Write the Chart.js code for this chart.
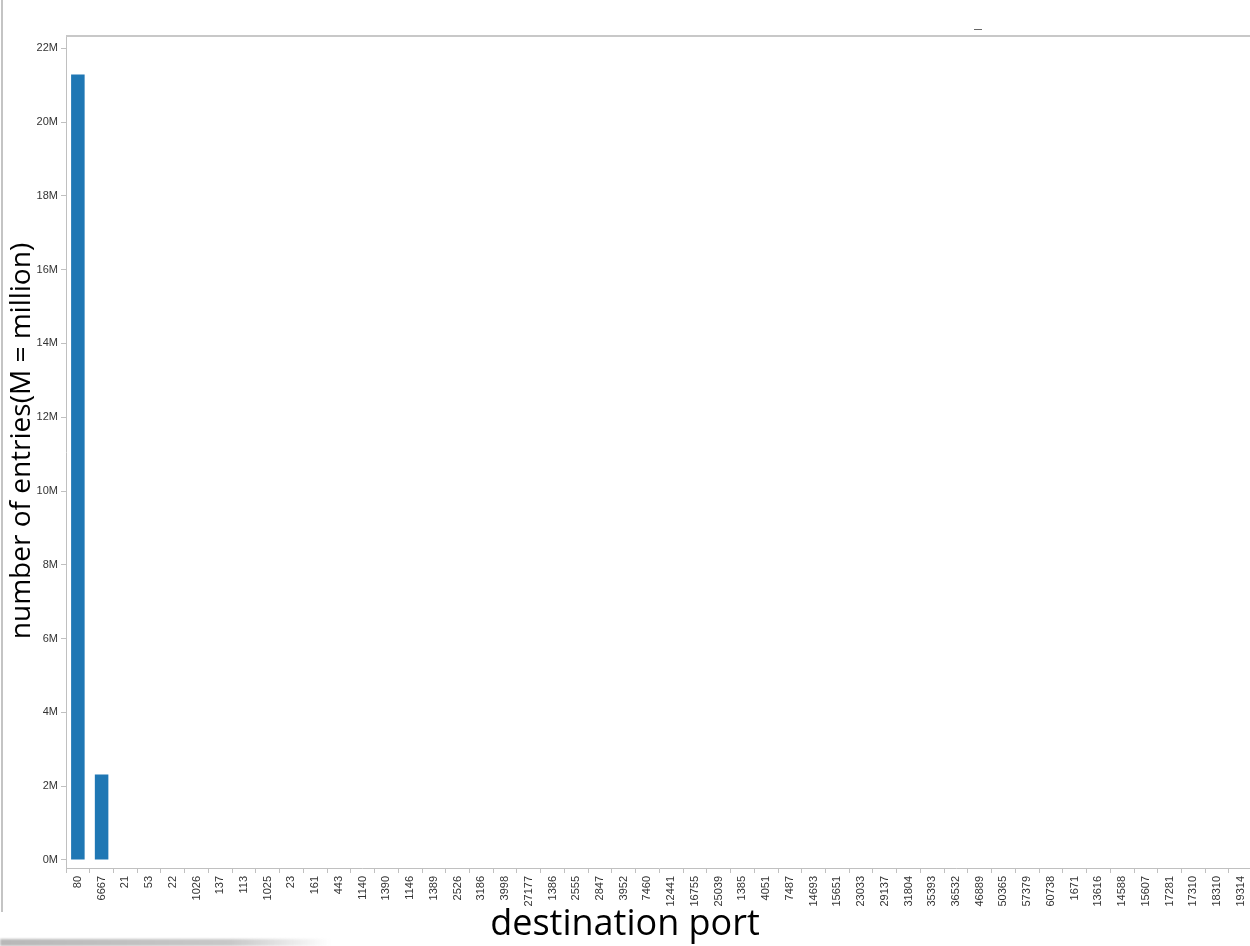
<!DOCTYPE html>
<html>
<head>
<meta charset="utf-8">
<script src="https://cdn.jsdelivr.net/npm/chart.js@4/dist/chart.umd.min.js"></script>
<style>
  html, body { margin: 0; padding: 0; background: #fff; overflow: hidden; }
  #wrap { position: relative; width: 1257px; height: 946px; }
  .edge { position: absolute; left: 1px; top: 0; width: 2px; height: 912px; background: #c4c4c4; }
  .smudge { position: absolute; left: 0; top: 939px; width: 330px; height: 7px;
            background: linear-gradient(to right, #b8b8b8, #c8c8c8 70%, rgba(220,220,220,0)); filter: blur(1px); }
  .dash { position: absolute; left: 974px; top: 29px; width: 8px; height: 1px; background: #666; }
</style>
</head>
<body>
<div id="wrap">
  <canvas id="portchart" width="1257" height="946"></canvas>
  <div class="edge"></div>
  <div class="smudge"></div>
  <div class="dash"></div>
</div>
<script>
// destination ports, ordered by number of entries
const ports = ["80", "6667", "21", "53", "22", "1026", "137", "113", "1025", "23",
  "161", "443", "1140", "1390", "1146", "1389", "2526", "3186", "3998", "27177",
  "1386", "2555", "2847", "3952", "7460", "12441", "16755", "25039", "1385", "4051",
  "7487", "14693", "15651", "23033", "29137", "31804", "35393", "36532", "46889", "50365",
  "57379", "60738", "1671", "13616", "14588", "15607", "17281", "17310", "18310", "19314"];

// entries per port; past 6667 the bars are too small to read, so they show as 0
const entries = [21290000, 2320000, 0, 0, 0, 0, 0, 0, 0, 0,
  0, 0, 0, 0, 0, 0, 0, 0, 0, 0,
  0, 0, 0, 0, 0, 0, 0, 0, 0, 0,
  0, 0, 0, 0, 0, 0, 0, 0, 0, 0,
  0, 0, 0, 0, 0, 0, 0, 0, 0, 0];

const yTicks = [0, 2e6, 4e6, 6e6, 8e6, 10e6, 12e6, 14e6, 16e6, 18e6, 20e6, 22e6];

const xTitle = "destination port";
const yTitle = "number of entries(M = million)";

// top frame line plus the two axis titles (placed like the original, off-centre)
const frameAndTitles = {
  id: "frameAndTitles",
  afterDraw(chart) {
    const { ctx, chartArea } = chart;
    ctx.save();
    ctx.strokeStyle = "#c8c8c8";
    ctx.lineWidth = 2;
    ctx.beginPath();
    ctx.moveTo(chartArea.left, chartArea.top);
    ctx.lineTo(chartArea.right, chartArea.top);
    ctx.stroke();

    ctx.fillStyle = "#000";
    ctx.textAlign = "center";
    ctx.textBaseline = "alphabetic";
    ctx.font = "36px 'Open Sans'";
    ctx.fillText(xTitle, 625, 935);

    ctx.translate(30, 441);
    ctx.rotate(-Math.PI / 2);
    ctx.font = "28px 'Open Sans'";
    ctx.fillText(yTitle, 0, 0);
    ctx.restore();
  }
};

const ctx = document.getElementById("portchart").getContext("2d");
const portchart = new Chart(ctx, {
  type: "bar",
  data: {
    labels: ports,
    datasets: [{
      label: "entries",
      data: entries,
      backgroundColor: "#1f77b4",
      borderWidth: 0,
      categoryPercentage: 1,
      barPercentage: 0.57,
    }],
  },
  options: {
    responsive: false,
    animation: false,
    devicePixelRatio: 1,
    layout: { padding: { top: 36, right: 0, left: 0, bottom: 0 } },
    plugins: { legend: { display: false }, tooltip: { enabled: false } },
    scales: {
      x: {
        grid: { drawOnChartArea: false, drawTicks: true, tickLength: 5, color: "#c0c0c0", offset: true },
        border: { color: "#c0c0c0", width: 1 },
        ticks: {
          autoSkip: false, minRotation: 90, maxRotation: 90, padding: 3,
          color: "#333", font: { family: "Liberation Sans", size: 11 },
        },
        afterFit(scale) { scale.height = 78; },
      },
      y: {
        min: -217000,
        max: 22333000,
        grid: { drawOnChartArea: false, drawTicks: true, tickLength: 5, color: "#c0c0c0" },
        border: { color: "#c0c0c0", width: 1 },
        ticks: {
          padding: 3, color: "#333", font: { family: "Liberation Sans", size: 11 },
          callback: (v) => (v / 1e6) + "M",
        },
        afterBuildTicks(scale) { scale.ticks = yTicks.map((v) => ({ value: v })); },
        afterFit(scale) { scale.width = 66; },
      },
    },
  },
  plugins: [frameAndTitles],
});
</script>
</body>
</html>
